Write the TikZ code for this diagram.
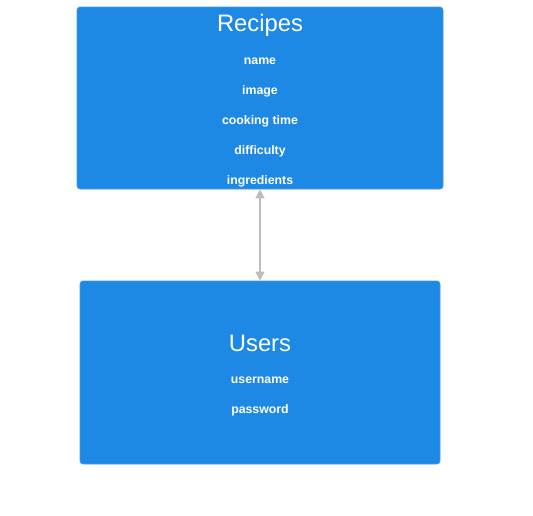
\documentclass[tikz,border=0pt]{standalone}
\usepackage{fontspec}
\setmainfont{Liberation Sans}
\usetikzlibrary{arrows.meta}
\definecolor{boxblue}{HTML}{1E88E5}
\definecolor{linkgray}{HTML}{BDBDBD}
\begin{document}
\begin{tikzpicture}[x=1pt,y=-1pt,
  entity/.style={fill=boxblue,draw=boxblue!85!white,rounded corners=3pt,line width=0.6pt},
  title/.style={text=white,font=\fontsize{23.8}{26}\selectfont,inner sep=0pt},
  attr/.style={text=white,font=\bfseries\fontsize{12.3}{14}\selectfont,inner sep=0pt},
  link/.style={draw=linkgray,line width=1.4pt,{Triangle[length=9pt,width=9pt]}-{Triangle[length=9pt,width=9pt]}}]
\useasboundingbox (0,0) rectangle (533,515);
\node[entity,minimum width=366pt,minimum height=182pt,inner sep=0pt] (rec) at (260,98) {};
\node[entity,minimum width=360pt,minimum height=183pt,inner sep=0pt] (usr) at (260,372.5) {};
\node[title] (rect) at (260,25.5) {Recipes};
\node[attr] (r1) at (260,61) {name};
\node[attr] (r2) at (260,91) {image};
\node[attr] (r3) at (260,121) {cooking time};
\node[attr] (r4) at (260,151) {difficulty};
\node[attr] (r5) at (260,181) {ingredients};
\node[title] (usrt) at (260,343.5) {Users};
\node[attr] (u1) at (260,380) {username};
\node[attr] (u2) at (260,410) {password};
\draw[link] (rec.south) -- (usr.north);
\end{tikzpicture}
\end{document}
